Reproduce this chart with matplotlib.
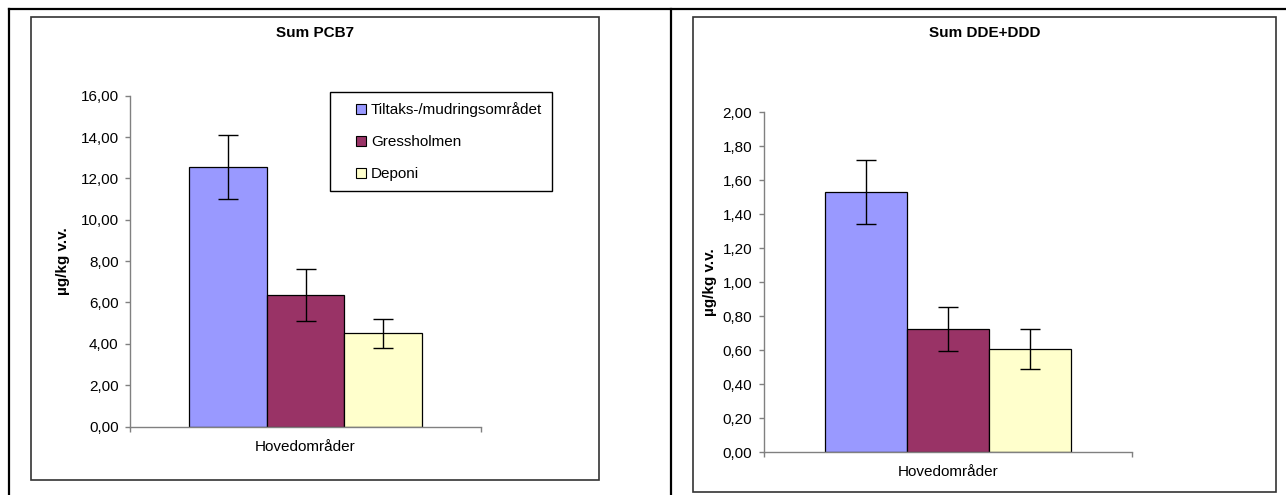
"""
Sum PCB7 og Sum DDE+DDD - to stolpediagram med feilstolper.
"""
import matplotlib

matplotlib.use("Agg")
import matplotlib.pyplot as plt
from matplotlib.legend_handler import HandlerLine2D
from matplotlib.lines import Line2D
from matplotlib.patches import Rectangle
from matplotlib.ticker import FuncFormatter, MultipleLocator

plt.rcParams["font.family"] = ["Liberation Sans", "DejaVu Sans"]

W, H = 1286, 495
FS = 11

category = "Hovedområder"
series = ["Tiltaks-/mudringsområdet", "Gressholmen", "Deponi"]
colors = ["#9999FF", "#993366", "#FFFFCC"]

pcb7_mean = [12.55, 6.36, 4.51]
pcb7_err = [1.55, 1.28, 0.71]

dde_mean = [1.53, 0.725, 0.607]
dde_err = [0.187, 0.131, 0.118]

ylabel = "µg/kg v.v."


def fx(px):
    return px / W


def fy(py):
    return 1 - py / H


def comma(v, _pos):
    return f"{v:.2f}".replace(".", ",")


def draw_panel(fig, box, means, errs, ymax, step, title, title_xy, ylab_x, xlab_y):
    # box = (venstre, topp, hoyre, bunn) i piksler
    x0, y_top, x1, y_bot = box
    ax = fig.add_axes([fx(x0), fy(y_bot), fx(x1) - fx(x0), fy(y_top) - fy(y_bot)])
    width = 1 / 4.5
    for i, (m, e) in enumerate(zip(means, errs)):
        pos = (i - 1) * width
        ax.bar(pos, m, width=width, color=colors[i], edgecolor="black",
               linewidth=0.9, zorder=2)
        ax.errorbar(pos, m, yerr=e, fmt="none", ecolor="black", elinewidth=1.0,
                    capsize=7, capthick=1.0, zorder=3)

    ax.set_xlim(-0.5, 0.5)
    ax.set_ylim(0, ymax)
    ax.yaxis.set_major_locator(MultipleLocator(step))
    ax.yaxis.set_major_formatter(FuncFormatter(comma))
    ax.set_xticks([-0.5, 0.5])
    ax.set_xticklabels([])

    for side in ("top", "right"):
        ax.spines[side].set_visible(False)
    for side in ("left", "bottom"):
        ax.spines[side].set_color("#808080")
        ax.spines[side].set_linewidth(1.0)
    ax.tick_params(direction="out", length=3.5, width=1.0, color="#808080",
                   labelsize=FS, pad=5)

    ax.set_title(title, fontsize=FS, fontweight="bold",
                 x=title_xy[0], y=title_xy[1])
    ax.set_ylabel(ylabel, fontsize=FS, fontweight="bold")
    ax.yaxis.set_label_coords(ylab_x, 0.5)
    ax.set_xlabel(category, fontsize=FS)
    ax.xaxis.set_label_coords(0.5, xlab_y)
    return ax


fig = plt.figure(figsize=(W / 100, H / 100), dpi=100, facecolor="white")

# tabellrammer rundt figurene
for xs, ys in [([fx(9), 1.0], [fy(9), fy(9)]),
               ([fx(9), fx(9)], [fy(9), 0.0]),
               ([fx(670.7), fx(670.7)], [fy(9), 0.0])]:
    fig.add_artist(Line2D(xs, ys, color="black", linewidth=1.6,
                          transform=fig.transFigure))

for (a, b, c, d) in [(30.5, 16.7, 599, 480.3), (692.7, 16.7, 1276, 492.3)]:
    fig.add_artist(Rectangle((fx(a), fy(d)), fx(c) - fx(a), fy(b) - fy(d),
                             fill=False, edgecolor="#333333", linewidth=1.2,
                             transform=fig.transFigure))

ax1 = draw_panel(fig, (130.4, 95.7, 480.6, 426.5), pcb7_mean, pcb7_err,
                 16, 2, "Sum PCB7", (0.527, 1.153), -0.1725, -0.040)
ax2 = draw_panel(fig, (764, 112, 1132.2, 452.3), dde_mean, dde_err,
                 2.0, 0.2, "Sum DDE+DDD", (0.600, 1.197), -0.128, -0.037)

handles = [Line2D([], [], marker="s", linestyle="none", markersize=6.5,
                  markerfacecolor=c, markeredgecolor="black",
                  markeredgewidth=0.8) for c in colors]
leg = ax1.legend(handles, series, loc="upper left",
                 bbox_to_anchor=(fx(330.5), fy(92)),
                 bbox_transform=fig.transFigure, borderaxespad=0,
                 fancybox=False, edgecolor="black", framealpha=1,
                 borderpad=0.65, handlelength=1.5, handletextpad=0.5,
                 labelspacing=1.18, fontsize=FS,
                 handler_map={Line2D: HandlerLine2D(xpad=1.2)})
leg.get_frame().set_linewidth(1.0)

fig.savefig("out.png", dpi=100, facecolor="white")
